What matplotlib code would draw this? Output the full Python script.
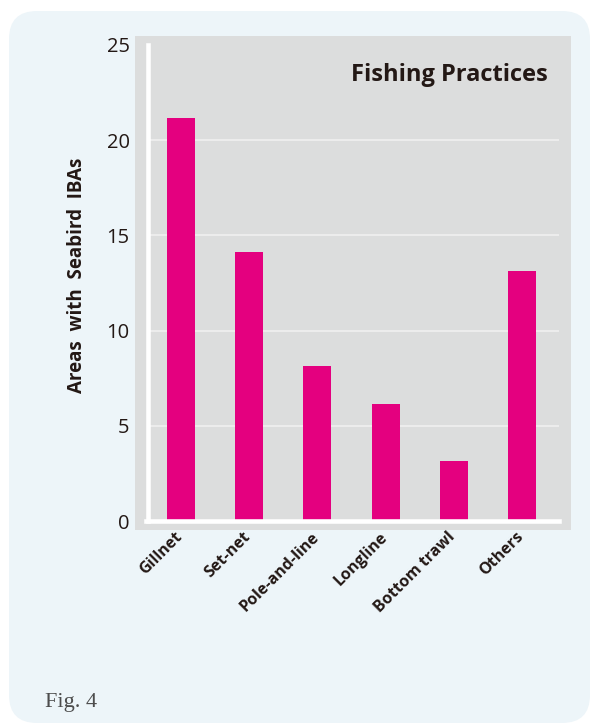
import matplotlib
matplotlib.use('Agg')
import matplotlib.pyplot as plt
from matplotlib.patches import FancyBboxPatch
from matplotlib.transforms import IdentityTransform, ScaledTranslation

# data
practices = ['Gillnet', 'Set-net', 'Pole-and-line', 'Longline', 'Bottom trawl', 'Others']
areas = [21.15, 14.12, 8.13, 6.14, 3.14, 13.12]
yticks = [0, 5, 10, 15, 20, 25]

bar_color = '#E4007F'
panel_color = '#DCDDDD'
box_color = '#EDF5F9'
text_color = '#231815'

fig = plt.figure(figsize=(5.93, 7.25), dpi=100)
fig.patch.set_facecolor('white')

# rounded light-blue card behind everything (pixel coords)
card = FancyBboxPatch((9, 2), 581, 712, boxstyle='round,pad=0,rounding_size=28',
                      transform=IdentityTransform(), facecolor=box_color,
                      edgecolor='none', zorder=0)
fig.add_artist(card)

ax = fig.add_axes([135 / 593, 1 - 530 / 725, 436 / 593, 494 / 725])
ax.set_facecolor(panel_color)

x = list(range(len(practices)))
ax.bar(x, areas, width=0.41, color=bar_color, zorder=3)

ax.set_xlim(-0.675, 5.72)
ax.set_ylim(-0.47, 25.47)

# light gridlines
ax.hlines(yticks[1:-1], -0.45, 5.54, color='#F0F0F0', linewidth=1.2, zorder=1)

# white axis lines
for s in ['top', 'right']:
    ax.spines[s].set_visible(False)
ax.spines['left'].set_position(('data', -0.49))
ax.spines['left'].set_bounds(0, 25)
ax.spines['bottom'].set_position(('data', 0))
ax.spines['bottom'].set_bounds(-0.52, 5.54)
for s in ['left', 'bottom']:
    ax.spines[s].set_color('white')
    ax.spines[s].set_linewidth(3.3)
    ax.spines[s].set_zorder(4)

ax.set_yticks(yticks)
ax.set_yticklabels([str(v) for v in yticks], fontsize=14.5, color=text_color,
                   family='Open Sans')
ax.tick_params(axis='y', length=0, pad=0)
for lbl in ax.get_yticklabels():
    lbl.set_transform(lbl.get_transform() + ScaledTranslation(-18 / 100, 0, fig.dpi_scale_trans))

ax.set_xticks(x)
ax.set_xticklabels(practices, rotation=45, ha='right', va='top', fontsize=11.5,
                   fontweight='bold', color=text_color, family='Open Sans')
ax.tick_params(axis='x', length=0, pad=0)
for lbl in ax.get_xticklabels():
    lbl.set_transform(lbl.get_transform() + ScaledTranslation(5 / 100, -8 / 100, fig.dpi_scale_trans))

ax.text(0.947, 0.909, 'Fishing Practices', transform=ax.transAxes, ha='right',
        va='baseline', fontsize=17, fontweight='bold', color=text_color,
        family='Open Sans')

fig.text(77 / 593, 1 - 275 / 725, 'Areas  with  Seabird  IBAs', rotation=90,
         ha='center', va='center', fontsize=13.5, fontweight='bold',
         color=text_color, family='Open Sans')

fig.text(45 / 593, 1 - 707 / 725, 'Fig. 4', ha='left', va='baseline',
         fontsize=16, color='#4d4d4d', family='Liberation Serif')

fig.savefig('out.png', dpi=100)
